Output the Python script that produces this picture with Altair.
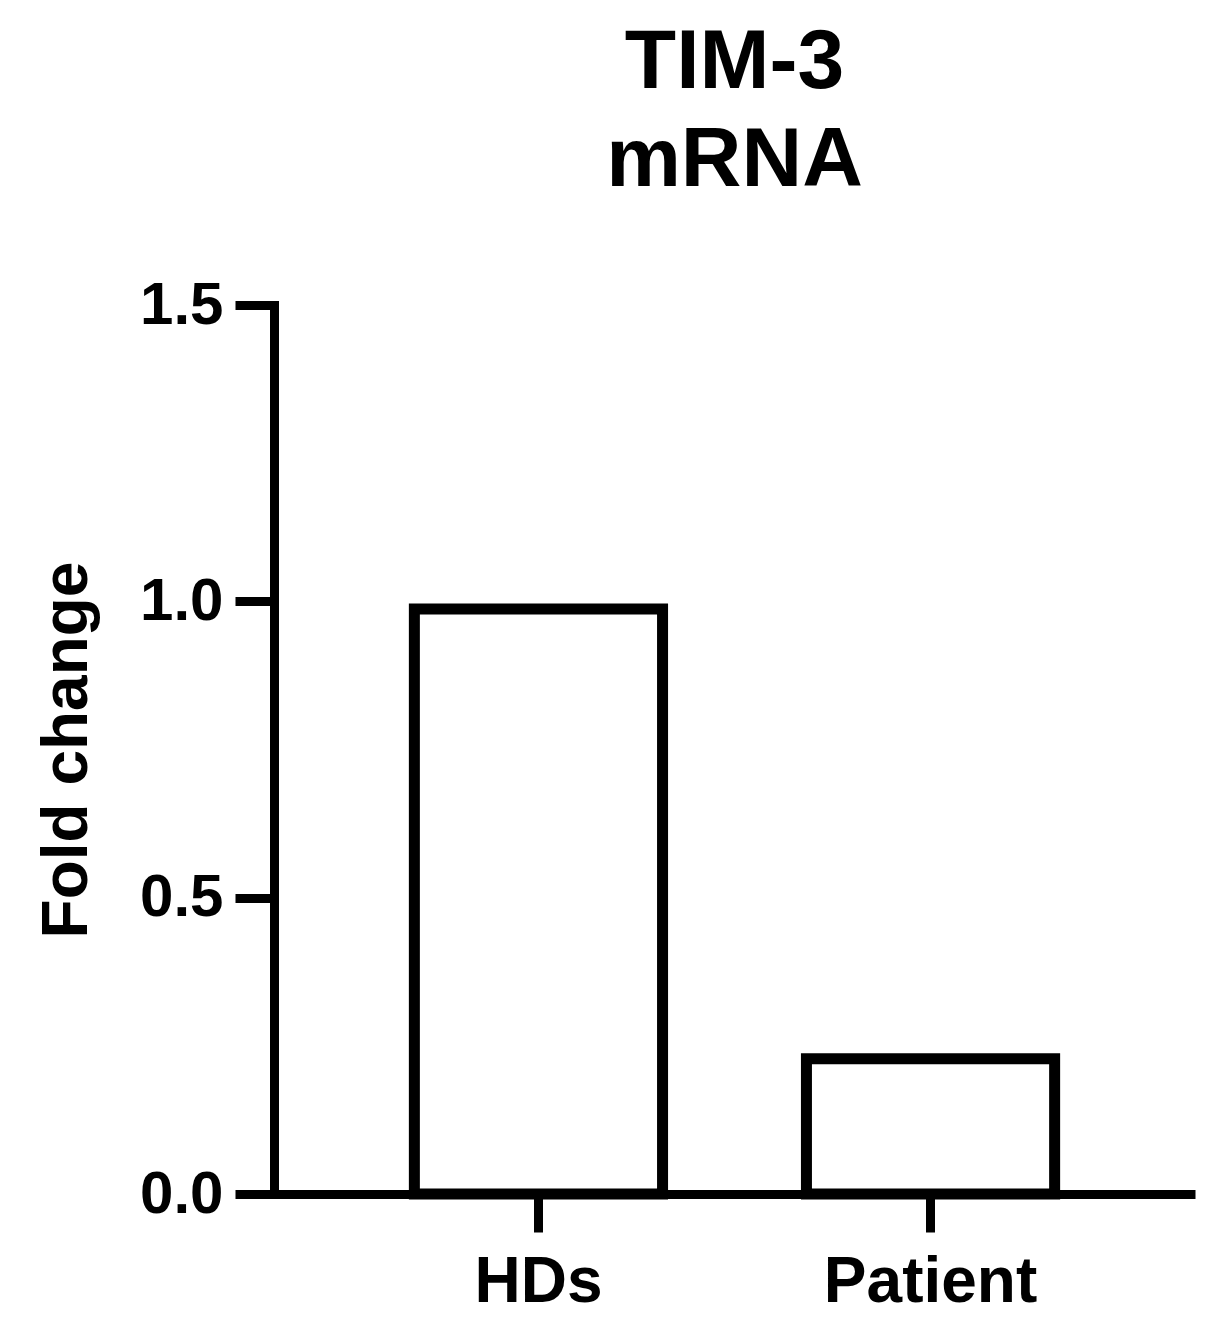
import altair as alt
import pandas as pd

groups = ["HDs", "Patient"]
fold_change = [0.987, 0.228]
y_ticks = [0.0, 0.5, 1.0, 1.5]

df = pd.DataFrame({"group": groups, "value": fold_change})

FONT = "Liberation Sans"

chart = alt.Chart(df).mark_bar(
    fill="white", stroke="black", strokeWidth=11, strokeJoin="miter"
).encode(
    x=alt.X(
        "group:N", sort=groups, title=None,
        scale=alt.Scale(paddingInner=0.367, paddingOuter=0.358),
        axis=alt.Axis(
            labelAngle=0, labelFont=FONT, labelFontSize=64, labelFontWeight="bold",
            labelColor="black", domainColor="black", domainWidth=9, labelLimit=0,
            tickColor="black", tickWidth=9, tickSize=38, labelPadding=18,
        ),
    ),
    y=alt.Y(
        "value:Q", title="Fold change",
        scale=alt.Scale(domain=[0, 1.5], nice=False, zero=True),
        axis=alt.Axis(
            values=y_ticks, format=".1f", grid=False,
            labelFont=FONT, labelFontSize=60, labelFontWeight="bold", labelColor="black",
            domainColor="black", domainWidth=9, domainCap="square",
            tickColor="black", tickWidth=9, tickSize=39, labelPadding=12,
            titleFont=FONT, titleFontSize=64, titleFontWeight="bold", titleColor="black",
            titlePadding=40,
        ),
    ),
).properties(
    width=921,
    height=889,
    title=alt.TitleParams(
        ["TIM-3", "mRNA"], font=FONT, fontSize=84, fontWeight="bold", color="black",
        lineHeight=98, anchor="middle", offset=71,
    ),
    padding={"left": 266, "top": 297, "right": 20, "bottom": 140},
    autosize=alt.AutoSizeParams(type="none"),
).configure_view(stroke=None)

chart.save("out.html", embed_options={"renderer": "svg", "actions": False})
